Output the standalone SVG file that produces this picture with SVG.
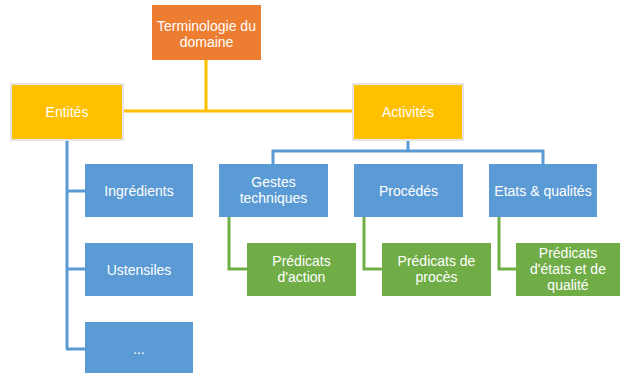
<svg xmlns="http://www.w3.org/2000/svg" width="621" height="373" viewBox="0 0 621 373">
<style>
text{font-family:"Liberation Sans",Arial,sans-serif;font-size:14px;fill:#fff;text-anchor:middle}
.y{stroke:#FFC000;stroke-width:3;fill:none}
.b{stroke:#5B9BD5;stroke-width:3;fill:none}
.g{stroke:#70AD47;stroke-width:3;fill:none}
.or{fill:#ED7D31}
.ye{fill:#FFC000;stroke:#E4E4E4;stroke-width:2}
.bl{fill:#5B9BD5}
.gr{fill:#70AD47}
</style>
<rect width="621" height="373" fill="#fff"/>
<g id="connectors">
<path class="y" d="M206,60 V111 M123,111 H354"/>
<path class="b" d="M67,140 V349 M66,191 H86 M66,269 H86 M66,349 H86"/>
<path class="b" d="M408,140 V151 M273,164 V151 H543 V164"/>
<path class="g" d="M229,217 V269 H248 M364,217 V269 H382 M499,217 V269 H517"/>
</g>
<g id="n-terminologie"><rect class="or" x="152" y="5" width="109" height="55"/><text x="206.5" y="31">Terminologie du</text><text x="206.5" y="47">domaine</text></g>
<g id="n-entites"><rect class="ye" x="11" y="84" width="112" height="56"/><text x="67" y="117">Entités</text></g>
<g id="n-activites"><rect class="ye" x="353" y="84" width="110" height="56"/><text x="408" y="117">Activités</text></g>
<g id="n-ingredients"><rect class="bl" x="85" y="164" width="108" height="53"/><text x="139" y="196">Ingrédients</text></g>
<g id="n-ustensiles"><rect class="bl" x="85" y="243" width="108" height="53"/><text x="139" y="275">Ustensiles</text></g>
<g id="n-etc"><rect class="bl" x="85" y="322" width="108" height="53"/><text x="139" y="354">...</text></g>
<g id="n-gestes"><rect class="bl" x="219" y="164" width="109" height="53"/><text x="273.5" y="187">Gestes</text><text x="273.5" y="203">techniques</text></g>
<g id="n-procedes"><rect class="bl" x="354" y="164" width="109" height="53"/><text x="408.5" y="196">Procédés</text></g>
<g id="n-etats"><rect class="bl" x="489" y="164" width="108" height="53"/><text x="543" y="196">Etats &amp; qualités</text></g>
<g id="n-pred-action"><rect class="gr" x="247" y="243" width="109" height="53"/><text x="301.5" y="266">Prédicats</text><text x="301.5" y="282">d'action</text></g>
<g id="n-pred-proces"><rect class="gr" x="382" y="243" width="109" height="53"/><text x="436.5" y="266">Prédicats de</text><text x="436.5" y="282">procès</text></g>
<g id="n-pred-etats"><rect class="gr" x="516" y="243" width="104" height="53"/><text x="568" y="258">Prédicats</text><text x="568" y="274">d'états et de</text><text x="568" y="290">qualité</text></g>
</svg>
